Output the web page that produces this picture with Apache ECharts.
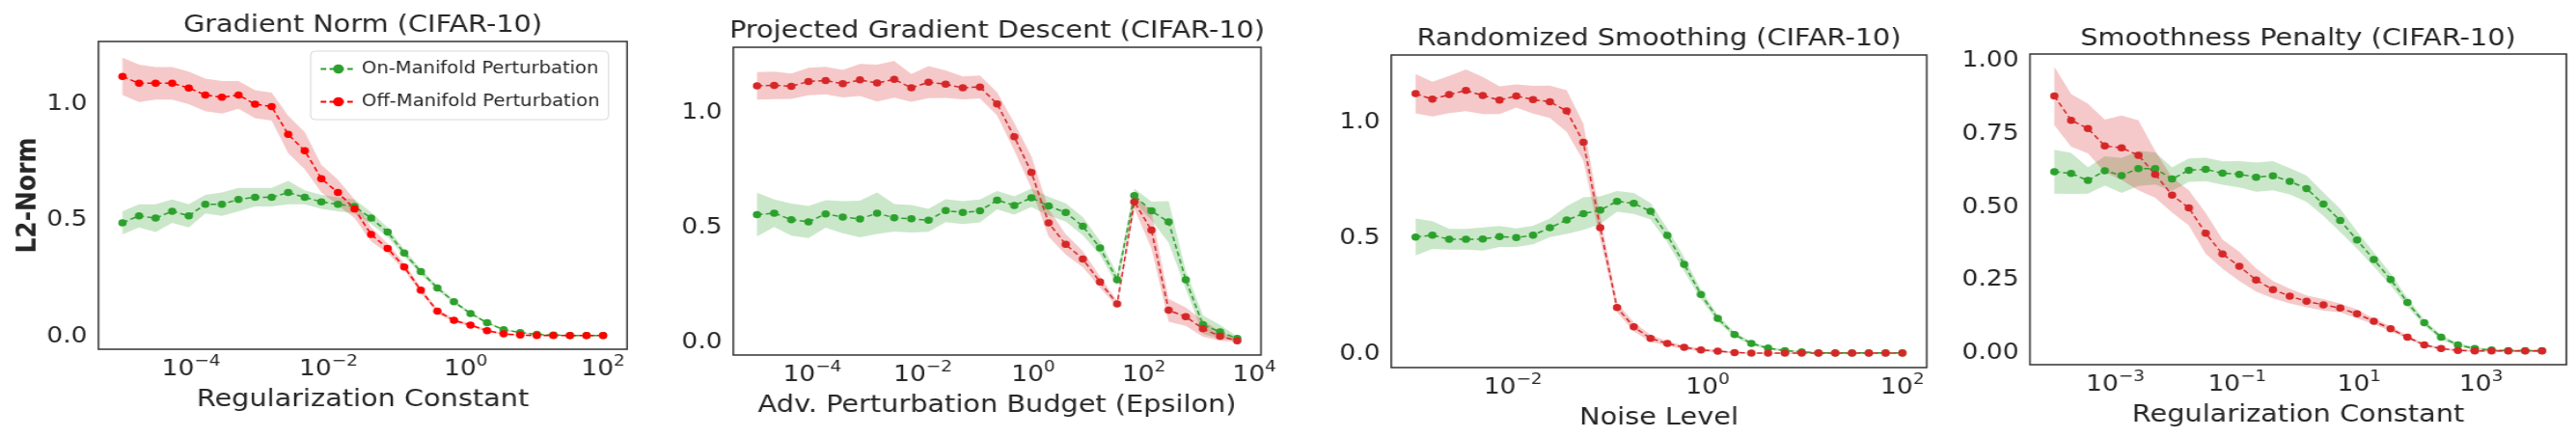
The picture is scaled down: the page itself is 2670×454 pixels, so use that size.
<!DOCTYPE html>
<html>
<head>
<meta charset="utf-8">
<title>Regularization vs L2-Norm (CIFAR-10)</title>
<script src="https://cdn.jsdelivr.net/npm/echarts@6/dist/echarts.min.js"></script>
<style>
  html, body { margin: 0; padding: 0; background: #fff; overflow: hidden; }
  /* the source figure is stretched sideways, so draw narrower and scale the box */
  #chart { width: 2322px; height: 454px; transform: scaleX(1.15); transform-origin: 0 0; }
</style>
</head>
<body>
<div id="chart"></div>
<script>
// x grids: exponents of 10, evenly spaced sweeps
function expRange(a, b, n) {
    var out = [];
    for (var i = 0; i < n; i++) out.push(a + i * (b - a) / (n - 1));
    return out;
}

// --- Gradient Norm ---
var gnX = expRange(-5, 2, 30);
var gnOn = [0.49, 0.52, 0.51, 0.54, 0.52, 0.57, 0.57, 0.59, 0.60, 0.60, 0.62, 0.60, 0.58, 0.57, 0.56,
            0.51, 0.45, 0.36, 0.28, 0.21, 0.15, 0.10, 0.06, 0.03, 0.018, 0.01, 0.007, 0.005, 0.005, 0.005];
var gnOnSd = [0.05, 0.05, 0.06, 0.05, 0.05, 0.04, 0.05, 0.05, 0.04, 0.04, 0.05, 0.03, 0.03, 0.03, 0.03,
              0.025, 0.02, 0.015, 0.012, 0.01, 0.008, 0.006, 0.005, 0.004, 0.003, 0.002, 0.002, 0.002, 0.002, 0.002];
var gnOff = [1.12, 1.09, 1.09, 1.09, 1.07, 1.04, 1.03, 1.04, 1.00, 0.99, 0.87, 0.80, 0.68, 0.62, 0.55,
             0.44, 0.38, 0.30, 0.20, 0.11, 0.07, 0.05, 0.026, 0.012, 0.007, 0.005, 0.005, 0.005, 0.005, 0.005];
var gnOffSd = [0.08, 0.08, 0.07, 0.07, 0.07, 0.07, 0.07, 0.06, 0.06, 0.06, 0.08, 0.08, 0.06, 0.055, 0.04,
               0.03, 0.02, 0.015, 0.012, 0.01, 0.008, 0.006, 0.005, 0.004, 0.003, 0.002, 0.002, 0.002, 0.002, 0.002];

// --- Projected Gradient Descent ---
var pgdX = expRange(-5, 4, 30).slice(0, 29);
var pgdOn = [0.557, 0.563, 0.535, 0.525, 0.560, 0.546, 0.538, 0.563, 0.543, 0.539, 0.532, 0.574, 0.566, 0.573, 0.620,
             0.597, 0.630, 0.594, 0.566, 0.506, 0.412, 0.273, 0.640, 0.573, 0.525, 0.273, 0.077, 0.046, 0.017];
var pgdOnSd = [0.095, 0.06, 0.07, 0.07, 0.06, 0.07, 0.08, 0.09, 0.06, 0.06, 0.05, 0.05, 0.05, 0.05, 0.04,
               0.04, 0.04, 0.04, 0.04, 0.04, 0.03, 0.025, 0.03, 0.04, 0.09, 0.04, 0.04, 0.03, 0.008];
var pgdOff = [1.118, 1.120, 1.116, 1.137, 1.141, 1.127, 1.144, 1.130, 1.146, 1.109, 1.134, 1.125, 1.109, 1.113, 1.039,
              0.896, 0.741, 0.521, 0.427, 0.363, 0.263, 0.168, 0.612, 0.489, 0.140, 0.112, 0.060, 0.027, 0.007];
var pgdOffSd = [0.06, 0.06, 0.055, 0.06, 0.06, 0.06, 0.07, 0.08, 0.08, 0.06, 0.07, 0.06, 0.05, 0.05, 0.05,
                0.06, 0.07, 0.06, 0.045, 0.035, 0.025, 0.012, 0.03, 0.08, 0.05, 0.04, 0.035, 0.02, 0.005];

// --- Randomized Smoothing ---
var rsX = expRange(-3, 2, 30);
var rsOn = [0.506, 0.514, 0.496, 0.496, 0.497, 0.508, 0.503, 0.514, 0.546, 0.579, 0.607, 0.622, 0.660, 0.651, 0.617,
            0.513, 0.388, 0.258, 0.154, 0.085, 0.046, 0.026, 0.015, 0.010, 0.006, 0.006, 0.006, 0.006, 0.006, 0.006];
var rsOnSd = [0.08, 0.06, 0.045, 0.045, 0.05, 0.045, 0.04, 0.04, 0.04, 0.06, 0.07, 0.06, 0.045, 0.045, 0.035,
              0.03, 0.03, 0.02, 0.015, 0.01, 0.008, 0.006, 0.005, 0.004, 0.003, 0.003, 0.003, 0.003, 0.003, 0.003];
var rsOff = [1.125, 1.101, 1.121, 1.139, 1.117, 1.097, 1.115, 1.099, 1.090, 1.050, 0.915, 0.546, 0.201, 0.118, 0.068,
             0.046, 0.029, 0.018, 0.013, 0.007, 0.004, 0.004, 0.004, 0.004, 0.004, 0.004, 0.004, 0.004, 0.004, 0.004];
var rsOffSd = [0.085, 0.075, 0.08, 0.09, 0.08, 0.06, 0.05, 0.06, 0.07, 0.09, 0.08, 0.05, 0.02, 0.02, 0.015,
               0.01, 0.008, 0.006, 0.005, 0.004, 0.003, 0.003, 0.003, 0.003, 0.003, 0.003, 0.003, 0.003, 0.003, 0.003];

// --- Smoothness Penalty ---
var spX = expRange(-4, 4, 30);
var spOn = [0.621, 0.615, 0.591, 0.624, 0.608, 0.632, 0.632, 0.596, 0.626, 0.629, 0.616, 0.612, 0.602, 0.607, 0.588,
            0.563, 0.510, 0.454, 0.387, 0.320, 0.252, 0.173, 0.104, 0.054, 0.028, 0.015, 0.010, 0.008, 0.008, 0.008];
var spOnSd = [0.075, 0.07, 0.045, 0.05, 0.06, 0.06, 0.055, 0.04, 0.04, 0.04, 0.04, 0.045, 0.05, 0.05, 0.045,
              0.045, 0.04, 0.04, 0.03, 0.025, 0.02, 0.015, 0.01, 0.008, 0.006, 0.005, 0.004, 0.003, 0.003, 0.003];
var spOff = [0.880, 0.797, 0.769, 0.709, 0.703, 0.677, 0.612, 0.541, 0.497, 0.410, 0.339, 0.297, 0.250, 0.217, 0.195,
             0.177, 0.165, 0.154, 0.134, 0.109, 0.083, 0.054, 0.028, 0.015, 0.009, 0.007, 0.007, 0.007, 0.007, 0.007];
var spOffSd = [0.10, 0.09, 0.085, 0.09, 0.11, 0.12, 0.08, 0.06, 0.06, 0.07, 0.05, 0.05, 0.04, 0.03, 0.025,
               0.02, 0.02, 0.015, 0.015, 0.01, 0.008, 0.006, 0.005, 0.004, 0.003, 0.003, 0.003, 0.003, 0.003, 0.003];

var xTicks = [[-4, -2, 0, 2], [-4, -2, 0, 2, 4], [-2, 0, 2], [-3, -1, 1, 3]];
var yTicks = [[0, 0.5, 1], [0, 0.5, 1], [0, 0.5, 1], [0, 0.25, 0.5, 0.75, 1]];

var ON_NAME = 'On-Manifold Perturbation';
var OFF_NAME = 'Off-Manifold Perturbation';

// layout (screen px of the final picture), x gets divided by SX
var SX = 1.15;
var FONT = 'DejaVu Sans';
var INK = '#262626';
var panels = [
    {title: 'Gradient Norm (CIFAR-10)', xName: 'Regularization Constant',
     x: gnX, on: gnOn, onSd: gnOnSd, off: gnOff, offSd: gnOffSd, red: '#ff0000',
     box: [102, 43, 650, 362], xr: [-5.35, 2.35], yr: [-0.054, 1.27], dec: 1, titleTop: 14},
    {title: 'Projected Gradient Descent (CIFAR-10)', xName: 'Adv. Perturbation Budget (Epsilon)',
     x: pgdX, on: pgdOn, onSd: pgdOnSd, off: pgdOff, offSd: pgdOffSd, red: '#d62728',
     box: [760, 49, 1307, 368], xr: [-5.43, 4.12], yr: [-0.055, 1.286], dec: 1, titleTop: 20},
    {title: 'Randomized Smoothing (CIFAR-10)', xName: 'Noise Level',
     x: rsX, on: rsOn, onSd: rsOnSd, off: rsOff, offSd: rsOffSd, red: '#d62728',
     box: [1442, 57, 1997, 381], xr: [-3.25, 2.25], yr: [-0.058, 1.292], dec: 1, titleTop: 28},
    {title: 'Smoothness Penalty (CIFAR-10)', xName: 'Regularization Constant',
     x: spX, on: spOn, onSd: spOnSd, off: spOff, offSd: spOffSd, red: '#d62728',
     box: [2104, 56, 2660, 378], xr: [-4.4, 4.4], yr: [-0.040, 1.024], dec: 2, titleTop: 28}
];

function band(i, xs, mean, sd, color) {
    var rows = xs.map(function (x, k) { return [x, mean[k] - sd[k], mean[k] + sd[k]]; });
    return {
        type: 'custom', xAxisIndex: i, yAxisIndex: i, data: rows, silent: true, z: 1,
        encode: {x: 0, y: [1, 2]},
        renderItem: function (params, api) {
            if (params.dataIndex !== 0) return null;
            var top = rows.map(function (r) { return api.coord([r[0], r[2]]); });
            var bot = rows.map(function (r) { return api.coord([r[0], r[1]]); }).reverse();
            return {type: 'polygon', shape: {points: top.concat(bot)}, style: {fill: color}};
        }
    };
}

function line(i, name, xs, ys, color) {
    return {
        type: 'line', name: name, xAxisIndex: i, yAxisIndex: i, z: 3,
        data: xs.map(function (x, k) { return [x, ys[k]]; }),
        symbol: 'circle', symbolSize: 7.5, showSymbol: true,
        lineStyle: {color: color, width: 1.5, type: [5, 3]},
        itemStyle: {color: color}
    };
}

function powLabel(v) {
    var e = Math.round(v);
    return '{b|10}{s|' + (e < 0 ? '\u2212' + (-e) : e) + '}';
}

var grids = [], xAxes = [], yAxes = [], titles = [], series = [];
panels.forEach(function (p, i) {
    var left = p.box[0] / SX, width = (p.box[2] - p.box[0]) / SX;
    grids.push({
        left: left, top: p.box[1], width: width, height: p.box[3] - p.box[1],
        show: true, borderColor: '#333', borderWidth: 1.5, backgroundColor: '#fff',
        containLabel: false, outerBoundsMode: 'none'
    });
    titles.push({
        text: p.title, left: left + width / 2, textAlign: 'center', top: p.titleTop, padding: 0,
        textStyle: {fontFamily: FONT, fontSize: 25, fontWeight: 'normal', color: INK}
    });
    xAxes.push({
        type: 'value', gridIndex: i, min: p.xr[0], max: p.xr[1],
        axisLine: {show: false}, axisTick: {show: false}, splitLine: {show: false},
        axisLabel: {
            customValues: xTicks[i], formatter: powLabel, margin: 5,
            rich: {
                b: {fontFamily: FONT, fontSize: 23, color: INK, lineHeight: 28, verticalAlign: 'bottom'},
                s: {fontFamily: FONT, fontSize: 16, color: INK, lineHeight: 18, verticalAlign: 'top'}
            }
        },
        name: p.xName, nameLocation: 'middle', nameGap: 40,
        nameTextStyle: {fontFamily: FONT, fontSize: 25, color: INK}
    });
    yAxes.push({
        type: 'value', gridIndex: i, min: p.yr[0], max: p.yr[1],
        axisLine: {show: false}, axisTick: {show: false}, splitLine: {show: false},
        axisLabel: {
            customValues: yTicks[i], margin: 10,
            formatter: function (v) { return v.toFixed(p.dec); },
            fontFamily: FONT, fontSize: 23, color: INK
        },
        name: i === 0 ? 'L2-Norm' : '', nameLocation: 'middle', nameGap: 48,
        nameTextStyle: {fontFamily: FONT, fontSize: 25, fontWeight: 'bold', color: INK}
    });
    series.push(band(i, p.x, p.on, p.onSd, 'rgba(44,160,44,0.25)'));
    series.push(band(i, p.x, p.off, p.offSd, 'rgba(214,39,40,0.25)'));
    series.push(line(i, ON_NAME, p.x, p.on, '#2ca02c'));
    series.push(line(i, OFF_NAME, p.x, p.off, p.red));
});

var chart = echarts.init(document.getElementById('chart'), null, {renderer: 'canvas'});
chart.setOption({
    animation: false,
    backgroundColor: '#fff',
    title: titles,
    legend: {
        data: [ON_NAME, OFF_NAME], orient: 'vertical',
        left: 322 / SX, top: 53, padding: [10, 8, 10, 8],
        itemWidth: 32, itemHeight: 12, itemGap: 17,
        backgroundColor: 'rgba(255,255,255,0.8)', borderColor: '#d9d9d9', borderWidth: 1, borderRadius: 4,
        textStyle: {fontFamily: FONT, fontSize: 17, color: INK}
    },
    grid: grids,
    xAxis: xAxes,
    yAxis: yAxes,
    series: series
});
</script>
</body>
</html>
